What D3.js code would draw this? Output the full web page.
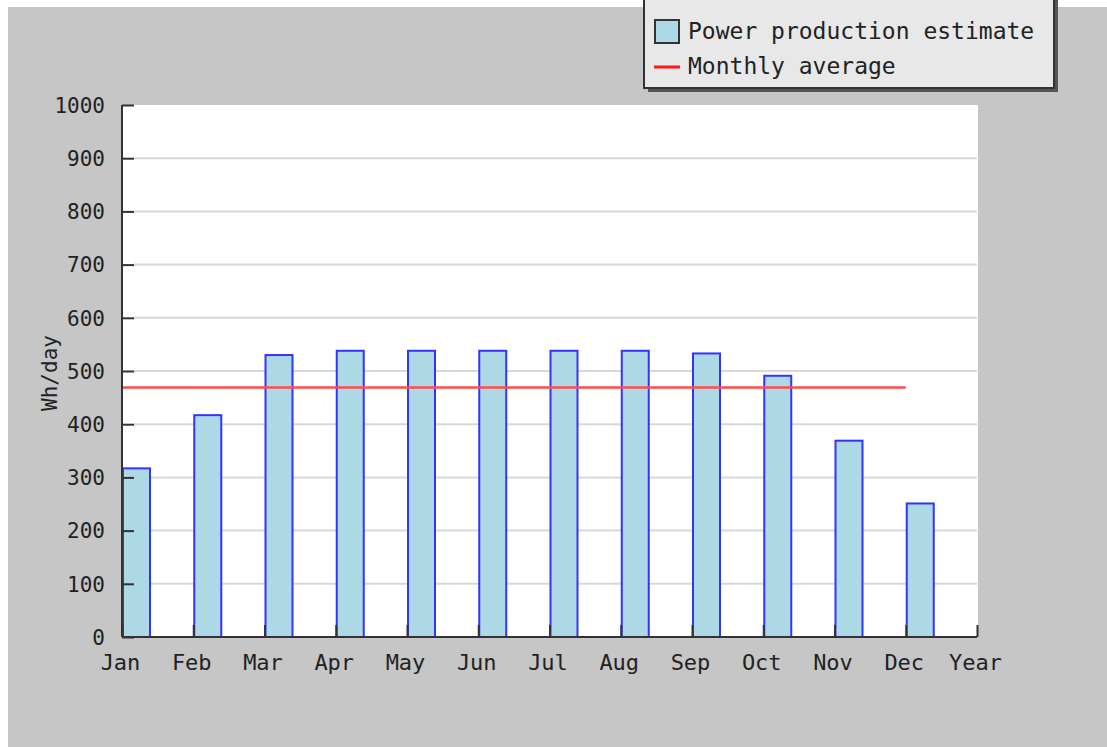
<!DOCTYPE html>
<html lang="en">
<head>
<meta charset="utf-8">
<style>
    body { margin: 0; background: #fff; }
    text { font-family: "DejaVu Sans Mono", "Liberation Mono", monospace; fill: #222; }
</style>
<script src="https://cdn.jsdelivr.net/npm/d3@7"></script>
</head>
<body>
<script>
// data
const months = ["Jan", "Feb", "Mar", "Apr", "May", "Jun", "Jul", "Aug", "Sep", "Oct", "Nov", "Dec"];
const tickLabels = ["Jan", "Feb", "Mar", "Apr", "May", "Jun", "Jul", "Aug", "Sep", "Oct", "Nov", "Dec", "Year"];
const production = [317, 417, 530, 538, 538, 538, 538, 538, 533, 491, 369, 251];
const monthlyAverage = 469;
const yTicks = [0, 100, 200, 300, 400, 500, 600, 700, 800, 900, 1000];

let w = 1107, h = 747;
let plotL = 122, plotR = 977, plotT = 105, plotB = 637;
let barW = 28;

let svg = d3.select("body").append("svg")
    .attr("width", w)
    .attr("height", h);

// grey panel
svg.append("rect")
    .attr("x", 8).attr("y", 7)
    .attr("width", w - 8).attr("height", h - 7)
    .attr("fill", "#c6c6c6");

let x = d3.scaleLinear().domain([0, 12]).range([plotL, plotR]);
let y = d3.scaleLinear().domain([0, 1000]).range([plotB, plotT]);

// plot area
svg.append("rect")
    .attr("x", plotL).attr("y", plotT)
    .attr("width", plotR - plotL + 1).attr("height", plotB - plotT)
    .attr("fill", "#fff");

// grid
svg.append("g").selectAll("line")
    .data(yTicks.filter(d => d > 0 && d < 1000))
    .join("line")
    .attr("x1", plotL + 12).attr("x2", plotR)
    .attr("y1", d => y(d)).attr("y2", d => y(d))
    .attr("stroke", "#d8d8d8")
    .attr("stroke-width", 2);

// bars
svg.append("g").selectAll("rect")
    .data(production)
    .join("rect")
    .attr("x", (d, i) => x(i) + 1)
    .attr("y", d => y(d))
    .attr("width", barW - 1)
    .attr("height", d => plotB - y(d))
    .attr("fill", "#add8e6")
    .attr("stroke", "#3333ff")
    .attr("stroke-width", 2);

// monthly average
svg.append("line")
    .attr("x1", x(0)).attr("x2", x(11))
    .attr("y1", y(monthlyAverage)).attr("y2", y(monthlyAverage))
    .attr("stroke", "#ff4d4d")
    .attr("stroke-width", 2.5);

// y axis
let yAxis = svg.append("g")
    .attr("transform", `translate(${plotL},0)`)
    .call(d3.axisRight(y).tickValues(yTicks).tickSize(12).tickFormat(d3.format("d")));
yAxis.select(".domain").attr("d", `M0,${plotT}V${plotB}`).attr("stroke", "#333").attr("stroke-width", 2);
yAxis.selectAll(".tick line").attr("stroke", "#333").attr("stroke-width", 2);
yAxis.selectAll(".tick text")
    .attr("x", -17).attr("dy", "0.35em")
    .attr("text-anchor", "end")
    .style("font-size", "21px")
    .style("font-family", "DejaVu Sans Mono")
    .attr("fill", "#222");

// x axis
let xAxis = svg.append("g")
    .attr("transform", `translate(0,${plotB})`)
    .call(d3.axisTop(x).tickValues(d3.range(13)).tickSize(12).tickFormat(i => tickLabels[i]));
xAxis.select(".domain").attr("d", `M${plotL},0H${plotR}`).attr("stroke", "#333").attr("stroke-width", 2);
xAxis.selectAll(".tick line").attr("stroke", "#333").attr("stroke-width", 2);
xAxis.selectAll(".tick text")
    .attr("y", 33).attr("dy", 0)
    .attr("x", -2)
    .style("font-size", "22px")
    .style("font-family", "DejaVu Sans Mono")
    .attr("fill", "#222");

// y label
svg.append("text")
    .attr("transform", `translate(57,${(plotT + plotB) / 2 + 2}) rotate(-90)`)
    .attr("text-anchor", "middle")
    .style("font-size", "21px")
    .text("Wh/day");

// legend
let legend = svg.append("g");
legend.append("rect")
    .attr("x", 648).attr("y", -10)
    .attr("width", 410).attr("height", 102)
    .attr("fill", "#555");
legend.append("rect")
    .attr("x", 644).attr("y", -10)
    .attr("width", 410).attr("height", 98)
    .attr("fill", "#e8e8e8")
    .attr("stroke", "#333")
    .attr("stroke-width", 2);
legend.append("rect")
    .attr("x", 655).attr("y", 20)
    .attr("width", 24).attr("height", 23)
    .attr("fill", "#add8e6")
    .attr("stroke", "#333")
    .attr("stroke-width", 2);
legend.append("text")
    .attr("x", 688).attr("y", 39)
    .style("font-size", "23px")
    .text("Power production estimate");
legend.append("line")
    .attr("x1", 654).attr("x2", 680)
    .attr("y1", 67).attr("y2", 67)
    .attr("stroke", "#ff1a1a")
    .attr("stroke-width", 3);
legend.append("text")
    .attr("x", 688).attr("y", 74)
    .style("font-size", "23px")
    .text("Monthly average");
</script>
</body>
</html>
